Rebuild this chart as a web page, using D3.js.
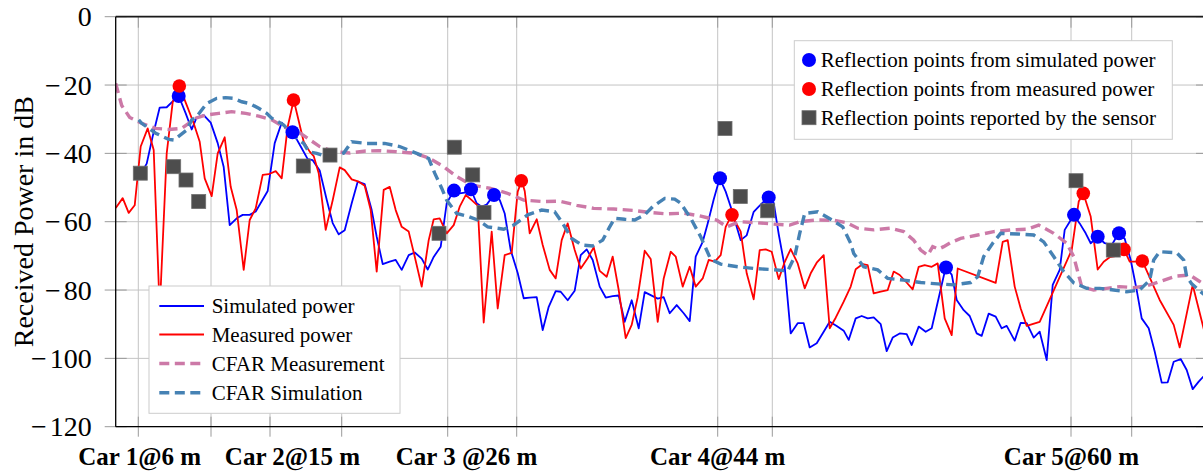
<!DOCTYPE html>
<html><head><meta charset="utf-8">
<script src="https://cdn.jsdelivr.net/npm/d3@7"></script>
<style>
body{margin:0;background:#fff}
svg{display:block}
text{font-family:"Liberation Serif","Times New Roman",serif;fill:#000}
</style>
</head><body>
<svg id="chart" width="1203" height="472"></svg>
<script>
// ---- data (x in range bins, y in dB) ----
const simulated = [[25,-46],[31,-43],[37,-35],[44,-26.6],[51,-26.5],[57,-24.8],[63,-23.2],[70,-28.3],[76,-33],[81,-29.5],[88,-28.8],[95,-31],[102,-37],[108,-44],[114,-61],[121,-59],[127,-58],[134,-58],[140,-57],[146,-54],[152,-51],[159,-37],[166,-31],[171,-32.6],[177,-33.8],[186,-38.5],[192,-41.7],[197,-42],[204,-45],[211,-53.6],[217,-60.4],[223,-63.7],[229,-62.5],[236,-54.6],[242,-48.3],[249,-49],[256,-56.6],[261,-64.4],[267,-72.4],[274,-71.7],[280,-71.2],[286,-74.1],[293,-69.8],[299,-69],[306,-70.8],[312,-74],[318,-70.3],[325,-67.3],[331,-54.6],[338,-50.9],[344,-51.7],[349,-51.5],[355,-50.5],[361,-54.6],[366,-55.6],[371,-55],[378,-52.2],[384,-53.6],[389,-57.6],[395,-68.3],[402,-75],[408,-82.4],[414,-82.2],[421,-82.1],[427,-91.7],[433,-84.9],[440,-80.3],[445,-80.5],[452,-83],[459,-80.2],[465,-69.8],[471,-68.1],[477,-71.2],[484,-79],[490,-82.2],[497,-81.8],[503,-81.6],[509,-89.3],[516,-83],[523,-91.2],[529,-80.6],[535,-81.5],[542,-82.5],[548,-82.1],[554,-86.8],[561,-84.4],[568,-86.8],[574,-89.1],[580,-70.2],[587,-65.9],[592,-60.5],[598,-53.5],[604,-47.3],[610,-51.2],[615,-55.6],[620,-60.5],[625,-65.4],[631,-64],[638,-57.1],[643,-55.6],[648,-54.1],[653,-52.9],[658,-54.5],[663,-63.6],[669,-73.2],[675,-92.7],[682,-89.7],[688,-89.7],[694,-96.8],[701,-95.6],[708,-92.2],[714,-89.3],[721,-90.5],[728,-91.9],[733,-94.6],[740,-88.3],[746,-87.6],[752,-88.3],[758,-88],[765,-90],[771,-97.9],[777,-93.9],[784,-92.7],[791,-92.9],[796,-96.1],[803,-90.7],[810,-92.2],[816,-91.2],[830,-73.4],[836,-75.5],[841,-82.9],[848,-85.9],[854,-87.6],[861,-92.7],[866,-93.4],[873,-86.9],[880,-87.8],[886,-91.2],[891,-90.5],[899,-94.8],[905,-89.6],[911,-89.7],[918,-93.9],[924,-92.2],[931,-100.5],[937,-78.5],[944,-74.1],[949,-62.4],[954,-60],[958,-58],[964,-60.5],[970,-63.4],[975,-66.3],[982,-64.4],[989,-66.3],[996,-66.8],[1003,-63.4],[1009,-65],[1015,-71.2],[1021,-80],[1026,-88.3],[1033,-91.2],[1039,-98],[1046,-107.1],[1052,-107],[1058,-101],[1065,-100.2],[1071,-103.4],[1077,-109],[1083,-106.8],[1092,-104]];

const measured = [[0,-56],[7,-53.1],[13,-57.4],[19,-55.2],[25,-38],[32,-32.7],[38,-39],[44,-86],[51,-40],[57,-25],[63.6,-20.3],[71,-25.9],[78,-31.2],[84,-36.6],[89,-47.3],[96,-52.5],[102,-40],[109,-35.3],[115,-49.8],[121,-56.6],[128,-74.1],[134,-59.5],[140,-56.1],[147,-46.3],[153,-46.1],[160,-45.2],[166,-47.3],[172,-32.2],[178,-24.4],[188,-36.6],[194,-39.5],[198,-40.8],[203,-45.8],[210,-62.4],[217,-53.7],[224,-44.1],[229,-44.9],[236,-47.6],[243,-48.3],[249,-49.5],[255,-56.6],[261,-74.6],[268,-50.7],[274,-49.8],[280,-56.6],[286,-61.5],[293,-62.9],[299,-70.2],[306,-79],[313,-65.4],[318,-59.3],[324,-59],[331,-63.4],[338,-61],[344,-55.6],[350,-52.2],[356,-53.7],[362,-55.3],[368,-89.5],[376,-62.9],[382,-85.4],[389,-69.8],[396,-69.1],[402,-51.2],[406,-48],[409,-51],[414,-63.4],[421,-59.3],[427,-66.8],[434,-74.1],[440,-76.6],[446,-65.4],[452,-60.5],[459,-68.3],[465,-73.7],[472,-70.7],[478,-67.5],[484,-74.4],[491,-76.1],[497,-70.2],[503,-80],[510,-94.1],[516,-90.2],[522,-82.1],[529,-68.5],[535,-70.9],[542,-89.3],[548,-76.6],[555,-68.8],[560,-70.2],[567,-79],[574,-73.2],[580,-79],[587,-76.6],[593,-71.2],[599,-71.7],[605,-69.8],[610,-61.5],[616,-58],[625,-62.9],[631,-75.1],[638,-82.7],[644,-68.3],[650,-68.1],[656,-68.8],[663,-76.8],[669,-71.8],[675,-68],[682,-72.2],[689,-79.5],[695,-75.1],[701,-72],[708,-69.8],[714,-91.2],[720,-88.1],[728,-83.4],[735,-79],[740,-73.9],[747,-72.4],[752,-72.7],[758,-81],[765,-80.5],[772,-80],[778,-74.6],[784,-75.6],[790,-77.5],[797,-79.8],[803,-73.2],[809,-72.7],[816,-73.2],[822,-72.2],[829,-88.3],[836,-93.2],[842,-73.7],[880,-77.9],[887,-65.9],[892,-65.4],[899,-79],[905,-85.4],[911,-90.5],[924,-89.3],[956,-68.3],[963,-54.1],[967.6,-51.7],[975,-58.5],[982,-74],[988,-71.7],[994,-70.4],[1001,-70],[1008.3,-68.1],[1014,-71.7],[1021,-71.7],[1026.6,-71.5],[1044,-82.9],[1058,-90.2],[1064,-96.8],[1077,-78.5],[1092,-96]];

const cfarMeasurement = [[0,-19.5],[6,-26],[14,-29.5],[26,-31.2],[40,-32.7],[53,-33],[66,-32.7],[80,-29.7],[90,-28.8],[103,-28.3],[116,-27.8],[130,-28.3],[143,-29.1],[156,-30.2],[170,-32.5],[184,-34],[193,-35.8],[204,-38],[218,-39.5],[234,-39.9],[250,-39.3],[263,-39.2],[280,-39.5],[300,-40],[314,-41.5],[328,-43.9],[341,-46.8],[356,-49.3],[374,-50.2],[391,-51.6],[408,-53.7],[428,-54.1],[444,-54],[461,-55.2],[478,-56.1],[498,-56.3],[518,-56.7],[534,-57.3],[551,-57.7],[568,-57.5],[584,-58.3],[601,-59.5],[611,-61.5],[624,-60],[641,-60.3],[658,-60.7],[674,-61],[684,-60],[701,-59.5],[718,-59.6],[731,-60.3],[742,-61.9],[758,-62.4],[775,-61.9],[788,-62.9],[798,-65.4],[805,-68.3],[812,-69.8],[817,-67.3],[823,-68],[828,-67.3],[835,-66.1],[845,-64.9],[862,-63.9],[878,-62.9],[895,-62.4],[911,-62.2],[923,-61],[938,-63.4],[951,-66.3],[958,-70.2],[966,-79],[978,-80],[991,-79.5],[1004,-79],[1018,-79.3],[1031,-78.8],[1044,-77.5],[1061,-75.9],[1074,-75.6],[1084,-77.5],[1092,-79]];

const cfarSimulation = [[23,-30.2],[26,-31.2],[40,-34.1],[53,-35.9],[58,-36.1],[71,-33.2],[76,-30.2],[81,-29.2],[91,-25.4],[101,-23.9],[110,-23.7],[118,-23.9],[126,-24.9],[134,-25.4],[143,-26.8],[151,-28.3],[156,-29.7],[168,-31.7],[178,-34.9],[188,-37.1],[193,-39.5],[201,-40],[206,-40.5],[223,-40.5],[228,-39.9],[236,-36.6],[251,-37.1],[269,-37.1],[284,-38],[301,-40],[313,-41.5],[319,-45.8],[326,-50.2],[331,-53.7],[341,-57.6],[353,-58.5],[362,-59.5],[372,-61.5],[388,-62.2],[398,-61],[412,-58],[426,-56.6],[439,-57.1],[447,-60.5],[456,-64.9],[466,-66.8],[477,-67.1],[487,-65.4],[494,-61.5],[499,-59],[509,-59.3],[519,-59.5],[529,-58],[537,-55.6],[549,-53.2],[559,-53.4],[565,-54.6],[575,-59],[585,-64.4],[595,-71],[605,-72.4],[622,-73.2],[639,-73.7],[655,-74],[672,-74.4],[679,-70.2],[684,-63.4],[689,-57.6],[702,-57.1],[715,-59.3],[727,-61.5],[735,-66.3],[738,-69.3],[748,-73.2],[762,-74.1],[772,-76.6],[788,-77.1],[805,-77.8],[822,-78.2],[838,-78.5],[855,-77.8],[862,-76.1],[868,-70.2],[877,-66.3],[885,-63.4],[902,-63.6],[918,-63.9],[928,-65.9],[938,-70.2],[948,-74.6],[958,-77.9],[971,-79.5],[984,-79.5],[998,-80],[1011,-80.5],[1024,-80],[1034,-77.1],[1038,-71.2],[1044,-68.8],[1061,-69.1],[1068,-71.2],[1071,-76.1],[1076,-78.2],[1087,-81],[1092,-82]];

const simPeaks = [[63,-23.2],[176.8,-33.8],[338.3,-50.9],[355.3,-50.5],[378.3,-52.2],[604.3,-47.3],[653,-52.9],[830.3,-73.4],[958.3,-58],[982,-64.4],[1003.3,-63.4]];
const measPeaks = [[63.6,-20.3],[177.8,-24.4],[405.6,-48],[616.3,-58],[967.6,-51.7],[1008.3,-68.1],[1026.6,-71.5]];
const sensorPoints = [[24.6,-45.8],[58,-43.9],[70.3,-47.8],[83,-54.1],[187.6,-43.7],[214.3,-40.5],[323.3,-63.4],[338.6,-38.2],[357,-46.3],[368.3,-57.3],[609.3,-32.7],[624.6,-52.6],[652,-56.8],[960.3,-48],[997.6,-68.3]];

const gridBins = [22.6,95.3,154.3,226,332,401,602,656.6,955.3,1016];
const carLabels = ["Car 1@6 m","Car 2@15 m","Car 3 @26 m","Car 4@44 m","Car 5@60 m"];
const carLabelBins = [23.5,176.3,350.3,601.5,955.3];
const yTicks = [0,-20,-40,-60,-80,-100,-120];

const lineLegend = ["Simulated power","Measured power","CFAR Measurement","CFAR Simulation"];
const pointLegend = ["Reflection points from simulated power","Reflection points from measured power","Reflection points reported by the sensor"];

// ---- layout ----
const svg = d3.select("#chart");
const X0 = 115.7, X1 = 1207, Y0 = 426.7, Y1 = 16.7;
const x = d3.scaleLinear().domain([0, 1091.3]).range([X0, X1]);
const y = d3.scaleLinear().domain([-120, 0]).range([Y0, Y1]);

const C = {sim:"#0000ff", meas:"#ff0000", cm:"#cc79a7", cs:"#4682b4", sq:"#4d4d4d", grid:"#c4c4c4", tick:"#9a9a9a"};

svg.append("defs").append("clipPath").attr("id","clip")
  .append("rect").attr("x",X0).attr("y",Y1).attr("width",X1-X0).attr("height",Y0-Y1);

// grid
const g = svg.append("g");
g.selectAll(".gh").data(yTicks).join("line")
  .attr("x1",X0).attr("x2",X1).attr("y1",d=>y(d)).attr("y2",d=>y(d))
  .attr("stroke",C.grid).attr("stroke-width",1);
g.selectAll(".gv").data(gridBins).join("line")
  .attr("x1",d=>x(d)).attr("x2",d=>x(d)).attr("y1",Y1).attr("y2",Y0)
  .attr("stroke",C.grid).attr("stroke-width",1);
// tick marks (both sides)
const tk = 11;
g.selectAll(".tl").data(yTicks).join("line")
  .attr("x1",X0-tk).attr("x2",X0+tk).attr("y1",d=>y(d)).attr("y2",d=>y(d)).attr("stroke",C.tick);
g.selectAll(".tr").data(yTicks).join("line")
  .attr("x1",X1-tk).attr("x2",X1+tk).attr("y1",d=>y(d)).attr("y2",d=>y(d)).attr("stroke",C.tick);
g.selectAll(".tb").data(gridBins).join("line")
  .attr("x1",d=>x(d)).attr("x2",d=>x(d)).attr("y1",Y0-10).attr("y2",Y0+10).attr("stroke",C.tick);
g.selectAll(".tt").data(gridBins).join("line")
  .attr("x1",d=>x(d)).attr("x2",d=>x(d)).attr("y1",Y1).attr("y2",Y1+11).attr("stroke",C.tick);

// axes labels via d3 axes
const ya = svg.append("g").attr("transform",`translate(${X0},0)`)
  .call(d3.axisLeft(y).tickValues(yTicks).tickSize(0).tickPadding(24));
ya.select(".domain").remove();
ya.selectAll("text").attr("font-family","Liberation Serif").attr("font-size",28).attr("fill","#000")
  .each(function(d){
    const t = d3.select(this).text("");
    if (d < 0) {
      t.append("tspan").text("\u2212");
      t.append("tspan").attr("dx",3).text(Math.abs(d));
    } else {
      t.append("tspan").text(d);
    }
  });

const xa = svg.append("g").attr("transform",`translate(0,${Y0})`)
  .call(d3.axisBottom(x).tickValues(carLabelBins).tickFormat((d,i)=>carLabels[i]).tickSize(0).tickPadding(21));
xa.select(".domain").remove();
xa.selectAll("text").attr("font-family","Liberation Serif").attr("font-size",25).attr("font-weight","bold").attr("fill","#000");

svg.append("text").attr("transform",`translate(33,${(Y0+Y1)/2}) rotate(-90)`)
  .attr("text-anchor","middle").attr("font-size",28).text("Received Power in dB");

// data
const plot = svg.append("g").attr("clip-path","url(#clip)");
const line = d3.line().x(d=>x(d[0])).y(d=>y(d[1]));
plot.append("path").datum(simulated).attr("d",line).attr("fill","none").attr("stroke",C.sim).attr("stroke-width",1.8).attr("stroke-linejoin","round");
plot.append("path").datum(measured).attr("d",line).attr("fill","none").attr("stroke",C.meas).attr("stroke-width",1.8).attr("stroke-linejoin","round");
plot.append("path").datum(cfarMeasurement).attr("d",line).attr("fill","none").attr("stroke",C.cm).attr("stroke-width",3.4).attr("stroke-dasharray","10,5.5");
plot.append("path").datum(cfarSimulation).attr("d",line).attr("fill","none").attr("stroke",C.cs).attr("stroke-width",3.4).attr("stroke-dasharray","10,5.5");

plot.selectAll(".sp").data(simPeaks).join("circle")
  .attr("cx",d=>x(d[0])).attr("cy",d=>y(d[1])).attr("r",7).attr("fill",C.sim);
plot.selectAll(".mp").data(measPeaks).join("circle")
  .attr("cx",d=>x(d[0])).attr("cy",d=>y(d[1])).attr("r",6.8).attr("fill",C.meas);
plot.selectAll(".sq").data(sensorPoints).join("rect")
  .attr("x",d=>x(d[0])-7).attr("y",d=>y(d[1])-7).attr("width",14).attr("height",14)
  .attr("fill",C.sq).attr("stroke","#6e6e6e").attr("stroke-width",0.8);

// axis lines
svg.append("line").attr("x1",X0).attr("x2",X1).attr("y1",Y1).attr("y2",Y1).attr("stroke","#1a1a1a").attr("stroke-width",1.8);
svg.append("line").attr("x1",X0).attr("x2",X1).attr("y1",Y0).attr("y2",Y0).attr("stroke","#000").attr("stroke-width",1.3);
svg.append("line").attr("x1",X0).attr("x2",X0).attr("y1",Y1).attr("y2",Y0).attr("stroke","#000").attr("stroke-width",1.3);

// legend 1 (lines)
const l1 = svg.append("g");
l1.append("rect").attr("x",149).attr("y",286).attr("width",251).attr("height",127.3)
  .attr("fill","#fff").attr("stroke","#cccccc");
const l1Style = [{c:C.sim,w:1.8,d:null},{c:C.meas,w:1.8,d:null},{c:C.cm,w:3.4,d:"10,5.5"},{c:C.cs,w:3.4,d:"10,5.5"}];
const l1Y = [306,334.5,363.5,392.7];
lineLegend.forEach((t,i)=>{
  l1.append("line").attr("x1",159.3).attr("x2",204).attr("y1",l1Y[i]).attr("y2",l1Y[i])
    .attr("stroke",l1Style[i].c).attr("stroke-width",l1Style[i].w).attr("stroke-dasharray",l1Style[i].d);
  l1.append("text").attr("x",211.7).attr("y",l1Y[i]+7).attr("font-size",21).text(t);
});

// legend 2 (points)
const l2 = svg.append("g");
l2.append("rect").attr("x",794.3).attr("y",40.7).attr("width",378).attr("height",98.6)
  .attr("fill","#fff").attr("stroke","#cccccc");
const l2Y = [60,89,117.7];
l2.append("circle").attr("cx",809).attr("cy",l2Y[0]).attr("r",7).attr("fill",C.sim);
l2.append("circle").attr("cx",809).attr("cy",l2Y[1]).attr("r",7).attr("fill",C.meas);
l2.append("rect").attr("x",802).attr("y",l2Y[2]-7).attr("width",14).attr("height",14).attr("fill",C.sq).attr("stroke","#6e6e6e").attr("stroke-width",0.8);
pointLegend.forEach((t,i)=>{
  l2.append("text").attr("x",820.7).attr("y",l2Y[i]+7).attr("font-size",21).text(t);
});
</script>
</body></html>
